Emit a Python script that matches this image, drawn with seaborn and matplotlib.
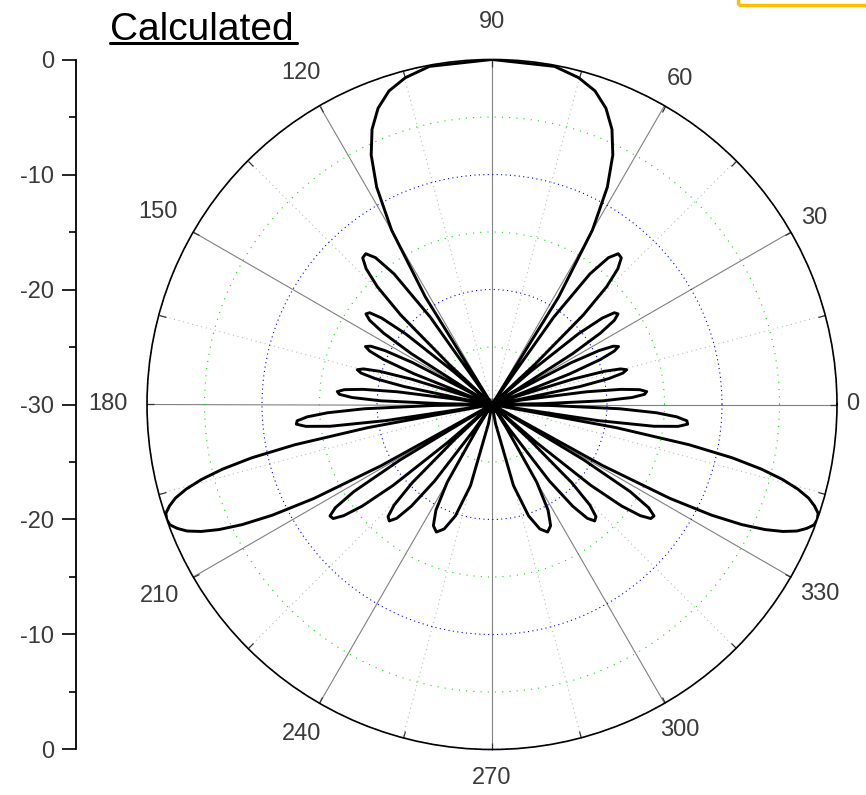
import numpy as np
import pandas as pd
import matplotlib
matplotlib.use("Agg")
import matplotlib.pyplot as plt
import seaborn as sns
from matplotlib.patches import Rectangle
from matplotlib.lines import Line2D
from matplotlib.ticker import MultipleLocator

sns.set_style("white")
plt.rcParams["font.family"] = ["Liberation Sans", "DejaVu Sans"]

# ---- data: right half of the pattern (angle in degrees, gain in dB)
theta_right_deg = [
    -90.0, -79.52, -75.16, -71.81, -68.96, -66.44, -64.16, -62.05, -60.07, -58.21,
    -56.44, -54.75, -53.13, -51.57, -50.06, -48.59, -47.17, -45.78, -44.43, -43.11,
    -41.81, -40.54, -39.29, -38.07, -36.87, -35.69, -34.52, -33.37, -32.23, -31.10,
    -30.0, -28.90, -27.82, -26.74, -25.68, -24.62, -23.58, -22.54, -21.51, -20.49,
    -19.47, -18.46, -17.46, -16.46, -15.47, -14.48, -13.49, -12.51, -11.54, -10.56,
    -9.59, -8.63, -7.66, -6.70, -5.74, -4.78, -3.82, -2.87, -1.91, -0.96,
    0.0, 0.96, 1.91, 2.87, 3.82, 4.78, 5.74, 6.70, 7.66, 8.63,
    9.59, 10.56, 11.54, 12.51, 13.49, 14.48, 15.47, 16.46, 17.46, 18.46,
    19.47, 20.49, 21.51, 22.54, 23.58, 24.62, 25.68, 26.74, 27.82, 28.90,
    30.0, 31.10, 32.23, 33.37, 34.52, 35.69, 36.87, 38.07, 39.29, 40.54,
    41.81, 43.11, 44.43, 45.78, 47.17, 48.59, 50.06, 51.57, 53.13, 54.75,
    56.44, 58.21, 60.07, 62.05, 64.16, 66.44, 68.96, 71.81, 75.16, 79.52,
    90.0,
]
gain_right_db = [
    -30, -28.3, -22.7, -19.8, -18.4, -17.9, -18.3, -19.6, -22.2, -27.7,
    -30, -27.4, -21.7, -18.7, -17.1, -16.5, -16.7, -17.8, -20.3, -25.6,
    -30, -24.9, -18.9, -15.7, -13.9, -13.0, -12.9, -13.7, -15.8, -20.7,
    -30, -19.0, -12.5, -8.6, -5.9, -3.9, -2.4, -1.3, -0.6, -0.1,
    0.0, -0.1, -0.6, -1.3, -2.4, -3.9, -5.9, -8.6, -12.5, -19.0,
    -30, -20.7, -15.8, -13.7, -12.9, -13.0, -13.9, -15.7, -18.9, -24.9,
    -30, -25.6, -20.3, -17.8, -16.7, -16.5, -17.1, -18.7, -21.7, -27.4,
    -30, -27.7, -22.2, -19.6, -18.3, -17.9, -18.4, -19.8, -22.7, -28.3,
    -30, -28.3, -22.7, -19.8, -18.4, -17.9, -18.3, -19.6, -22.2, -27.7,
    -30, -27.4, -21.7, -18.7, -17.1, -16.5, -16.7, -17.8, -20.3, -25.6,
    -30, -24.9, -18.9, -15.7, -13.9, -13.0, -12.9, -13.7, -15.8, -20.7,
    -30, -19.0, -12.5, -8.6, -5.9, -3.9, -2.4, -1.3, -0.6, -0.1,
    0.0,
]
angle_ticks = [0, 30, 60, 90, 120, 150, 180, 210, 240, 270, 300, 330]
angle_labels = ["0", "30", "60", "90", "120", "150", "180", "210", "240", "270", "300", "330"]
radial_major = [-20, -10, 0]
radial_minor = [-25, -15, -5]
left_tick_pos = [-30, -20, -10, 0, 10, 20, 30]
left_tick_labels = ["0", "-10", "-20", "-30", "-20", "-10", "0"]
title_text = "Calculated"

# layout: distance (px) of each angle label's centre from the plot centre
label_radius_px = [361, 372, 376, 382, 383, 386, 384, 384, 380, 373, 376, 379]

# pattern is mirror-symmetric about the 90-270 axis
th_r = np.array(theta_right_deg)
g_r = np.array(gain_right_db)
theta_full = np.concatenate([th_r, 180.0 - th_r[::-1][1:]])
gain_full = np.concatenate([g_r, g_r[::-1][1:]])
df = pd.DataFrame({"theta": np.deg2rad(theta_full), "gain": np.clip(gain_full, -30, 0)})

W, H = 866, 795
fig = plt.figure(figsize=(W / 100, H / 100), dpi=100)
R, cx, cy = 345, 492, 404.5
ax = fig.add_axes([(cx - R) / W, (H - cy - R) / H, 2 * R / W, 2 * R / H], projection="polar")

ax.set_ylim(-30, 0)
ax.set_xticks(np.deg2rad(angle_ticks))
ax.set_xticks(np.deg2rad(np.array(angle_ticks) + 15), minor=True)
ax.set_xticklabels([])
ax.set_yticks(radial_major)
ax.set_yticks(radial_minor, minor=True)
ax.set_yticklabels([])
ax.grid(False)
ax.grid(True, which="major", axis="x", color="#808080", lw=0.8, ls="-")
ax.grid(True, which="minor", axis="x", color="#b4b4b4", lw=0.75, ls=(0, (1, 3.5)))
ax.grid(True, which="major", axis="y", color="#0000ff", lw=0.8, ls=(0, (1, 3)))
ax.grid(True, which="minor", axis="y", color="#00e600", lw=0.8, ls=(0, (1, 5.5)))
ax.spines["polar"].set_color("black")
ax.spines["polar"].set_linewidth(1.2)
ax.tick_params(axis="x", which="both", bottom=True, top=True, direction="in",
               length=5, width=0.9, colors="#333333")
ax.tick_params(axis="y", which="both", length=0)

sns.lineplot(data=df, x="theta", y="gain", sort=False, estimator=None,
             color="black", linewidth=2.1, ax=ax)
ax.set_xlabel("")
ax.set_ylabel("")
ax.set_ylim(-30, 0)

for a, lab, rp in zip(angle_ticks, angle_labels, label_radius_px):
    ax.text(np.deg2rad(a), -30 + 30 * rp / R, lab, ha="center", va="center", fontsize=17,
            color="#3a3a3a", clip_on=False)

# left radial scale
ax2 = fig.add_axes([76 / W, (H - 749) / H, 0.0001, 689 / H])
ax2.set_ylim(-30, 30)
ax2.set_xticks([])
for s in ["right", "top", "bottom"]:
    ax2.spines[s].set_visible(False)
ax2.spines["left"].set_color("black")
ax2.spines["left"].set_linewidth(1.3)
ax2.set_yticks(left_tick_pos)
ax2.set_yticklabels(left_tick_labels, fontsize=17, color="#3a3a3a")
ax2.yaxis.set_minor_locator(MultipleLocator(5))
ax2.tick_params(axis="y", which="both", left=True, right=False)
ax2.tick_params(axis="y", which="major", length=10, width=1.2, direction="out", pad=6,
                color="black", labelcolor="#3a3a3a")
ax2.tick_params(axis="y", which="minor", length=5, width=1.2, direction="out", color="black")
ax2.patch.set_visible(False)

# title with underline
fig.text(110 / W, 1 - 39.5 / H, title_text, fontsize=28, ha="left", va="baseline", color="black")
fig.add_artist(Line2D([110 / W, 297 / W], [1 - 43 / H, 1 - 43 / H], color="black", lw=2.2,
                      transform=fig.transFigure))

# fragment of an orange frame at top right
fig.add_artist(Rectangle((738 / W, 1 - 5 / H), 0.5, 0.5, transform=fig.transFigure,
                         fill=False, edgecolor="#FFC000", lw=2.5, clip_on=False))

fig.savefig("out.png", dpi=100)
